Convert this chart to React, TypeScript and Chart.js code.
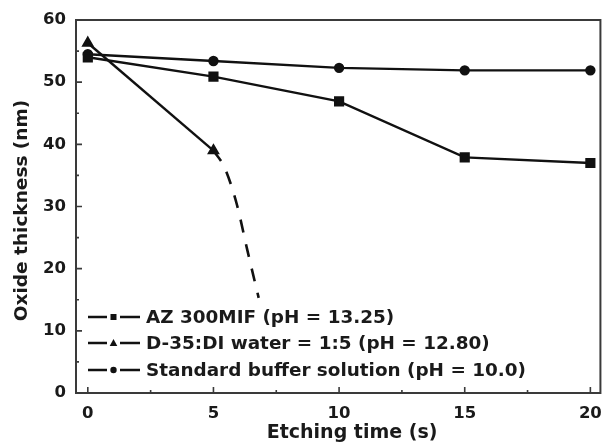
import React, { useEffect, useRef } from "react";
import { Chart, registerables } from "chart.js";

Chart.register(...registerables);

const times = [0, 5, 10, 15, 20];
const azValues = [54, 50.9, 46.9, 37.9, 37];
const d35Times = [0, 5];
const d35Values = [56.3, 39];
const d35TrendTimes = [5, 5.45, 5.94, 6.33, 6.8];
const d35TrendValues = [39, 36.2, 30.2, 23.3, 15.3];
const bufferValues = [54.5, 53.4, 52.3, 51.9, 51.9];
const xTickValues = [0, 5, 10, 15, 20];
const xMinorTicks = [2.5, 7.5, 12.5, 17.5];
const yMinorTicks = [5, 15, 25, 35, 45, 55];
const seriesLabels = [
  "AZ 300MIF (pH = 13.25)",
  "D-35:DI water = 1:5 (pH = 12.80)",
  "Standard buffer solution (pH = 10.0)",
];
const seriesMarkers = ["rect", "triangle", "circle"];
const xTitle = "Etching time (s)";
const yTitle = "Oxide thickness (nm)";

const FONT = "'DejaVu Sans', sans-serif";
const INK = "#111";
const TEXT = "#1a1a1a";
const AXIS = "#3a3a3a";

const framePlugin = {
  id: "frame",
  afterDraw(chart: any) {
    const { ctx, chartArea: a, scales } = chart;
    const x = scales.x;
    const y = scales.y;
    ctx.save();
    ctx.strokeStyle = AXIS;
    ctx.lineWidth = 2;
    ctx.strokeRect(a.left, a.top, a.right - a.left, a.bottom - a.top);
    // ticks inward
    ctx.lineWidth = 1.6;
    ctx.beginPath();
    xTickValues.forEach((v) => {
      const px = x.getPixelForValue(v);
      ctx.moveTo(px, a.bottom);
      ctx.lineTo(px, a.bottom - 6);
    });
    xMinorTicks.forEach((v) => {
      const px = x.getPixelForValue(v);
      ctx.moveTo(px, a.bottom);
      ctx.lineTo(px, a.bottom - 3);
    });
    y.ticks.forEach((t: any) => {
      const py = y.getPixelForValue(t.value);
      ctx.moveTo(a.left, py);
      ctx.lineTo(a.left + 6, py);
    });
    yMinorTicks.forEach((v) => {
      const py = y.getPixelForValue(v);
      ctx.moveTo(a.left, py);
      ctx.lineTo(a.left + 3, py);
    });
    ctx.stroke();

    // axis titles
    ctx.fillStyle = TEXT;
    ctx.font = `bold 19px ${FONT}`;
    ctx.textAlign = "center";
    ctx.textBaseline = "middle";
    ctx.fillText(xTitle, x.getPixelForValue(10) + 13, 433);
    ctx.font = `bold 18.5px ${FONT}`;
    ctx.save();
    ctx.translate(22, (a.top + a.bottom) / 2 + 4);
    ctx.rotate(-Math.PI / 2);
    ctx.fillText(yTitle, 0, 0);
    ctx.restore();

    // legend
    const rows = [317, 343, 370];
    const lx0 = a.left + 12;
    ctx.strokeStyle = INK;
    ctx.fillStyle = INK;
    ctx.lineWidth = 2.6;
    seriesLabels.forEach((label, i) => {
      const yy = rows[i];
      ctx.beginPath();
      ctx.moveTo(lx0, yy);
      ctx.lineTo(lx0 + 19, yy);
      ctx.moveTo(lx0 + 32, yy);
      ctx.lineTo(lx0 + 52, yy);
      ctx.stroke();
      const mx = lx0 + 25.5;
      ctx.beginPath();
      if (seriesMarkers[i] === "rect") {
        ctx.rect(mx - 3, yy - 3, 6, 6);
      } else if (seriesMarkers[i] === "triangle") {
        ctx.moveTo(mx, yy - 4);
        ctx.lineTo(mx + 3.8, yy + 3);
        ctx.lineTo(mx - 3.8, yy + 3);
        ctx.closePath();
      } else {
        ctx.arc(mx, yy, 3.2, 0, Math.PI * 2);
      }
      ctx.fill();
      ctx.font = `bold 18.4px ${FONT}`;
      ctx.textBaseline = "middle";
      ctx.textAlign = "left";
      ctx.fillStyle = TEXT;
      ctx.fillText(label, lx0 + 58, yy + 1);
      ctx.fillStyle = INK;
    });
    ctx.restore();
  },
};

export default function App() {
  const ref = useRef<HTMLCanvasElement | null>(null);
  useEffect(() => {
    if (!ref.current) return;
    const toXY = (xs: number[], ys: number[]) => xs.map((x, i) => ({ x, y: ys[i] }));
    const chart = new Chart(ref.current, {
      type: "line",
      data: {
        datasets: [
          {
            label: seriesLabels[0],
            data: toXY(times, azValues),
            borderColor: INK,
            backgroundColor: INK,
            borderWidth: 2.4,
            pointStyle: "rect",
            pointRadius: 5.5,
            tension: 0,
          },
          {
            label: seriesLabels[1],
            data: toXY(d35Times, d35Values),
            borderColor: INK,
            backgroundColor: INK,
            borderWidth: 2.4,
            pointStyle: "triangle",
            pointRadius: 5,
            tension: 0,
          },
          {
            label: "trend",
            data: toXY(d35TrendTimes, d35TrendValues),
            borderColor: INK,
            borderWidth: 2.6,
            borderDash: [13, 12],
            pointRadius: 0,
            cubicInterpolationMode: "monotone",
          },
          {
            label: seriesLabels[2],
            data: toXY(times, bufferValues),
            borderColor: INK,
            backgroundColor: INK,
            borderWidth: 2.4,
            pointStyle: "circle",
            pointRadius: 4,
            tension: 0,
          },
        ],
      },
      options: {
        animation: false,
        responsive: false,
        maintainAspectRatio: false,
        layout: { padding: { top: 20, right: 3, left: 0, bottom: 0 } },
        plugins: { legend: { display: false }, tooltip: { enabled: false } },
        scales: {
          x: {
            type: "linear",
            min: -0.47,
            max: 20.4,
            afterBuildTicks: (s: any) => {
              s.ticks = xTickValues.map((v) => ({ value: v }));
            },
            afterFit: (s: any) => {
              s.height = 52;
            },
            grid: { display: false, drawTicks: false },
            border: { display: false },
            ticks: {
              color: TEXT,
              font: { family: FONT, size: 16.5, weight: "bold" },
              padding: 11,
              maxRotation: 0,
            },
          },
          y: {
            min: 0,
            max: 60,
            afterFit: (s: any) => {
              s.width = 76;
            },
            grid: { display: false, drawTicks: false },
            border: { display: false },
            ticks: {
              stepSize: 10,
              color: TEXT,
              font: { family: FONT, size: 16.5, weight: "bold" },
              padding: 10,
            },
          },
        },
      },
      plugins: [framePlugin],
    } as any);
    return () => chart.destroy();
  }, []);
  return (
    <div style={{ position: "fixed", left: 0, top: 0, width: 613, height: 445, background: "#fff" }}>
      <canvas ref={ref} width={613} height={445} style={{ display: "block" }} />
    </div>
  );
}
